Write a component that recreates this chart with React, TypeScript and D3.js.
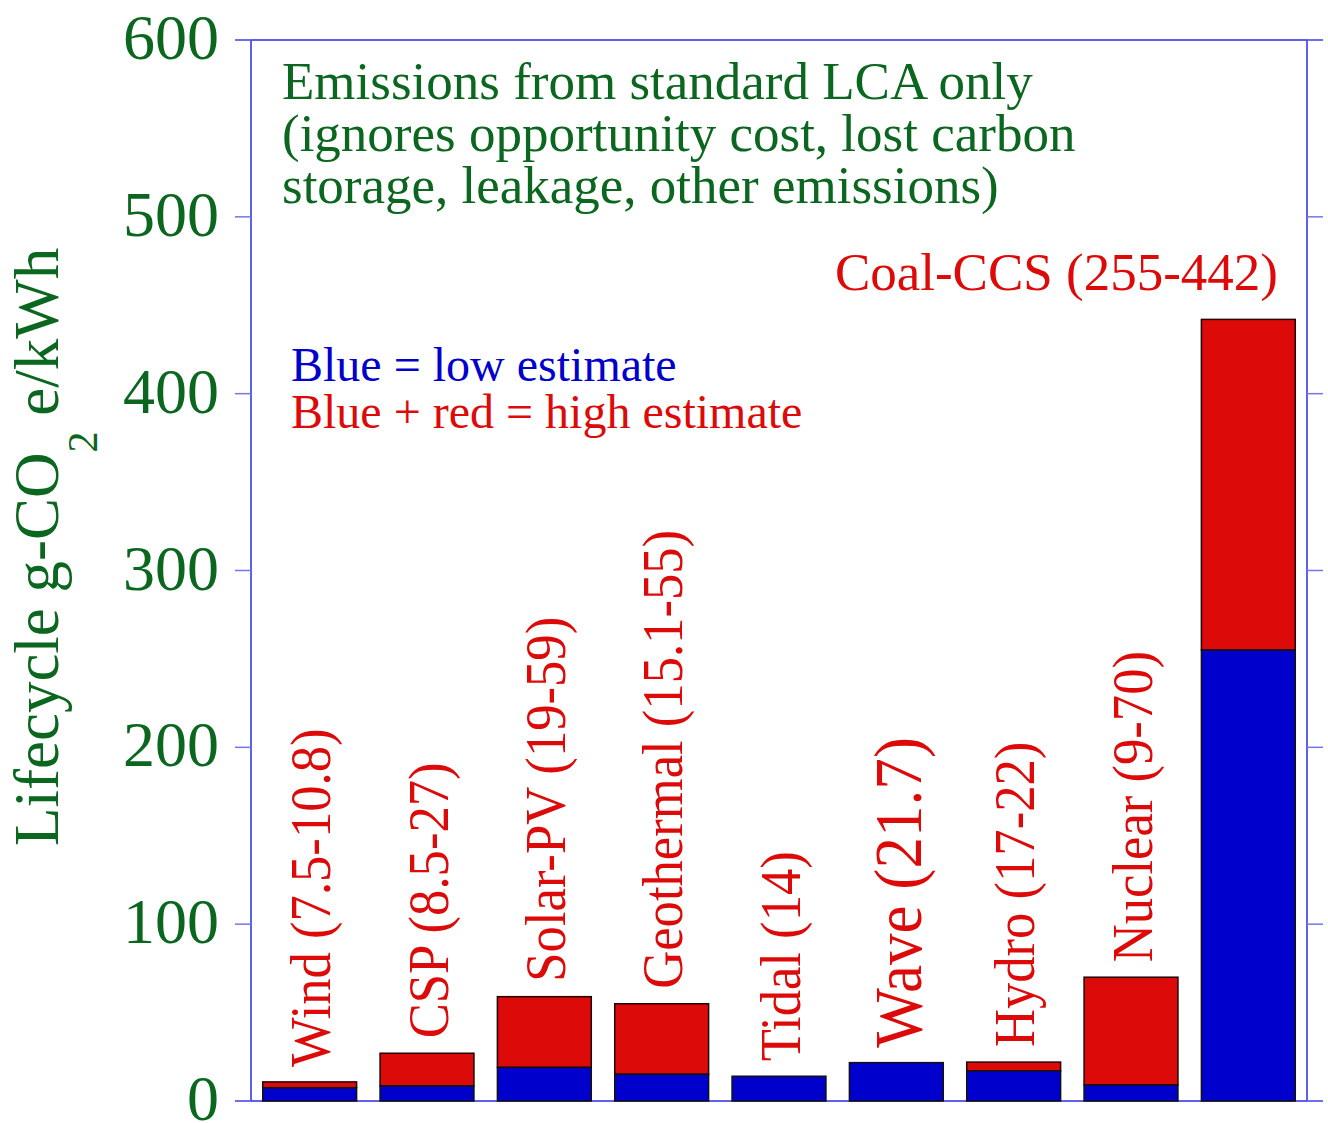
import React from "react";
import * as d3 from "d3";

const categories = ["Wind", "CSP", "Solar-PV", "Geothermal", "Tidal", "Wave", "Hydro", "Nuclear", "Coal-CCS"];
const lowValues = [7.5, 8.5, 19, 15.1, 14, 21.7, 17, 9, 255];
const highValues = [10.8, 27, 59, 55, 14, 21.7, 22, 70, 442];
const barLabels = [
  "Wind (7.5-10.8)",
  "CSP (8.5-27)",
  "Solar-PV (19-59)",
  "Geothermal (15.1-55)",
  "Tidal (14)",
  "Wave (21.7)",
  "Hydro (17-22)",
  "Nuclear (9-70)",
  "Coal-CCS (255-442)",
];
const yTicks = [0, 100, 200, 300, 400, 500, 600];
const titleLines = [
  "Emissions from standard LCA only",
  "(ignores opportunity cost, lost carbon",
  "storage, leakage, other emissions)",
];
const legendLines = ["Blue = low estimate", "Blue + red = high estimate"];

const W = 1328;
const H = 1123;
const FONT = "'Liberation Serif', 'Times New Roman', Times, serif";
const GREEN = "#0b661f";
const RED = "#dd0a0a";
const BLUE = "#0000cc";
const AXIS = "#2b2be8";
const TICK = "#7474ee";

const AX_L = 251;
const AX_R = 1307;
const Y_TOP = 40;
const Y_BOT = 1101;

// larger font for one label, as in the reference
const labelSizeFactor: Record<string, number> = { Wave: 1.2 };

export default function App() {
  const x = d3.scaleBand<string>().domain(categories).range([AX_L, AX_R]).paddingInner(0.2).paddingOuter(0.1);
  const y = d3.scaleLinear().domain([0, 600]).range([Y_BOT, Y_TOP]);
  const bw = x.bandwidth();

  return (
    <svg width={W} height={H} style={{ position: "absolute", left: 0, top: 0, background: "#fff" }} fontFamily={FONT}>
      <rect x={0} y={0} width={W} height={H} fill="#fff" />
      {/* frame */}
      <line x1={235} x2={1323} y1={Y_TOP} y2={Y_TOP} stroke={AXIS} strokeWidth={1.5} />
      <line x1={235} x2={1323} y1={Y_BOT} y2={Y_BOT} stroke={AXIS} strokeWidth={1.5} />
      <line x1={AX_L} x2={AX_L} y1={Y_TOP} y2={Y_BOT} stroke={AXIS} strokeWidth={1.5} />
      <line x1={AX_R} x2={AX_R} y1={Y_TOP} y2={Y_BOT} stroke={AXIS} strokeWidth={1.5} />
      {yTicks.map((t) => (
        <g key={t}>
          <line x1={235} x2={AX_L} y1={y(t)} y2={y(t)} stroke={TICK} strokeWidth={1.5} />
          <line x1={AX_R} x2={1323} y1={y(t)} y2={y(t)} stroke={TICK} strokeWidth={1.5} />
          <text x={219} y={y(t) + 19} textAnchor="end" fontSize={64} fill={GREEN}>
            {t}
          </text>
        </g>
      ))}

      {/* bars */}
      {categories.map((c, i) => {
        const x0 = x(c)!;
        const lo = lowValues[i];
        const hi = highValues[i];
        return (
          <g key={c}>
            {hi > lo && (
              <rect x={x0} y={y(hi)} width={bw} height={y(lo) - y(hi)} fill={RED} stroke="#220000" strokeWidth={1.5} />
            )}
            <rect x={x0} y={y(lo)} width={bw} height={y(0) - y(lo)} fill={BLUE} stroke="#111" strokeWidth={1.5} />
          </g>
        );
      })}

      {/* rotated labels */}
      {categories.slice(0, 8).map((c, i) => {
        const fs = 56 * (labelSizeFactor[c] || 1);
        const cx = x(c)! + bw / 2;
        const tx = cx + fs * 0.37;
        const ty = y(highValues[i]) - 15;
        return (
          <text
            key={c}
            transform={`translate(${tx},${ty}) rotate(-90) scale(0.94,1)`}
            fontSize={fs}
            fill={RED}
            textAnchor="start"
          >
            {barLabels[i]}
          </text>
        );
      })}
      <text x={1278} y={290} textAnchor="end" fontSize={53} fill={RED}>
        {barLabels[8]}
      </text>

      {/* title */}
      {titleLines.map((l, i) => (
        <text key={i} x={282} y={99 + i * 52} fontSize={53} fill={GREEN}>
          {l}
        </text>
      ))}

      {/* legend */}
      <text x={291} y={381} fontSize={48} fill={BLUE}>
        {legendLines[0]}
      </text>
      <text x={291} y={428} fontSize={48} fill={RED}>
        {legendLines[1]}
      </text>

      {/* y axis title */}
      <text transform={`translate(58,846) rotate(-90)`} fontSize={63} fill={GREEN}>
        Lifecycle g-CO
        <tspan fontSize={42} dy={39}>
          2
        </tspan>
        <tspan dy={-39}> e/kWh</tspan>
      </text>
    </svg>
  );
}
